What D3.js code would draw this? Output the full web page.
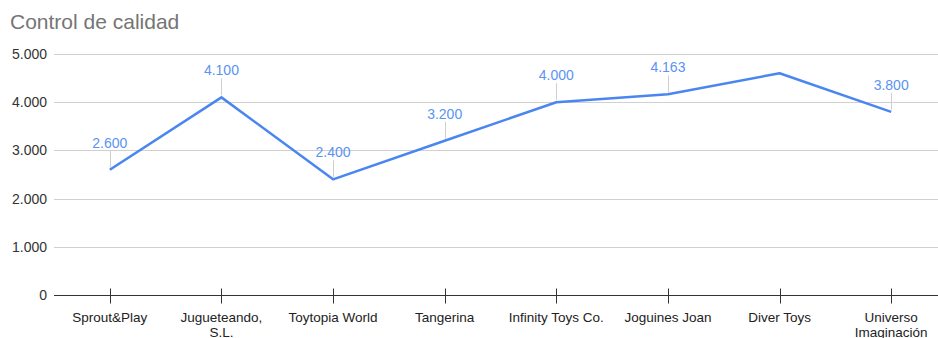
<!DOCTYPE html>
<html>
<head>
<meta charset="utf-8">
<script src="https://cdn.jsdelivr.net/npm/d3@7"></script>
<style>
  body { margin: 0; background: #fff; }
  text { font-family: "Liberation Sans", Arial, sans-serif; }
</style>
</head>
<body>
<div id="chart"></div>
<script>
//Data for the chart.
const companies = ["Sprout&Play", "Jugueteando, S.L.", "Toytopia World", "Tangerina",
  "Infinity Toys Co.", "Joguines Joan", "Diver Toys", "Universo Imaginación"];
const scores = [2600, 4100, 2400, 3200, 4000, 4163, 4600, 3800];
//Which points carry a data label in the original.
const labelled = [true, true, true, true, true, true, false, true];
const yTicks = [0, 1000, 2000, 3000, 4000, 5000];

//Size of the svg container.
const width = 938;
const height = 338;
const margin = { top: 54, right: -9, bottom: 43, left: 54 };

const svg = d3.select("#chart")
  .append("svg")
  .attr("width", width)
  .attr("height", height);

//Spanish number format: dot as thousands separator.
const fmt = d3.formatLocale({ decimal: ",", thousands: ".", grouping: [3], currency: ["", "€"] }).format(",");

const xScale = d3.scalePoint()
  .domain(companies)
  .range([margin.left, width - margin.right])
  .padding(0.5);

const yScale = d3.scaleLinear()
  .domain([0, 5000])
  .range([height - margin.bottom, margin.top]);

//Title.
svg.append("text")
  .attr("x", 10)
  .attr("y", 29)
  .attr("font-size", "21px")
  .attr("fill", "#757575")
  .text("Control de calidad");

//Horizontal grid lines.
svg.append("g")
  .selectAll("line")
  .data(yTicks.filter(d => d > 0))
  .enter()
  .append("line")
  .attr("x1", margin.left)
  .attr("x2", width)
  .attr("y1", d => Math.round(yScale(d)) + 0.5)
  .attr("y2", d => Math.round(yScale(d)) + 0.5)
  .attr("stroke", "#d0d0d0")
  .attr("stroke-width", 1);

//Y axis labels.
const yAxis = svg.append("g")
  .attr("transform", `translate(${margin.left},0)`)
  .call(d3.axisLeft(yScale).tickValues(yTicks).tickFormat(fmt).tickSize(0).tickPadding(7));
yAxis.select(".domain").remove();
yAxis.selectAll("text")
  .attr("font-family", "Liberation Sans, Arial, sans-serif")
  .attr("font-size", "14px")
  .attr("fill", "#333");

//X axis with ticks crossing the baseline.
const x0 = Math.round(yScale(0)) + 0.5;
svg.append("line")
  .attr("x1", margin.left)
  .attr("x2", width)
  .attr("y1", x0)
  .attr("y2", x0)
  .attr("stroke", "#333");

svg.append("g")
  .selectAll("line")
  .data(companies)
  .enter()
  .append("line")
  .attr("x1", d => Math.round(xScale(d)) + 0.5)
  .attr("x2", d => Math.round(xScale(d)) + 0.5)
  .attr("y1", x0 - 7)
  .attr("y2", x0 + 8)
  .attr("stroke", "#333");

//Category labels, wrapped after a comma or when too long.
function wrapLabel(d) {
  const c = d.indexOf(", ");
  if (c >= 0) return [d.slice(0, c + 1), d.slice(c + 2)];
  if (d.length > 18) {
    const s = d.indexOf(" ");
    return [d.slice(0, s), d.slice(s + 1)];
  }
  return [d];
}

const catLabels = svg.append("g")
  .selectAll("text")
  .data(companies)
  .enter()
  .append("text")
  .attr("x", d => xScale(d))
  .attr("y", x0 + 26)
  .attr("text-anchor", "middle")
  .attr("font-size", "13.5px")
  .attr("fill", "#222");

catLabels.each(function (d) {
  const t = d3.select(this);
  wrapLabel(d).forEach((ln, i) => {
    t.append("tspan")
      .attr("x", xScale(d))
      .attr("dy", i === 0 ? 0 : 15)
      .text(ln);
  });
});

//The data line.
const line = d3.line()
  .x((d, i) => xScale(companies[i]))
  .y(d => yScale(d));

svg.append("path")
  .datum(scores)
  .attr("fill", "none")
  .attr("stroke", "#4a86f0")
  .attr("stroke-width", 2.5)
  .attr("stroke-linejoin", "round")
  .attr("d", line);

//Data labels with thin leader lines.
const labelData = scores.map((v, i) => ({ name: companies[i], value: v, show: labelled[i] }))
  .filter(d => d.show);

svg.append("g")
  .selectAll("line")
  .data(labelData)
  .enter()
  .append("line")
  .attr("x1", d => Math.round(xScale(d.name)) + 0.5)
  .attr("x2", d => Math.round(xScale(d.name)) + 0.5)
  .attr("y1", d => yScale(d.value) - 2)
  .attr("y2", d => yScale(d.value) - 19)
  .attr("stroke", "#cfcfcf");

svg.append("g")
  .selectAll("text")
  .data(labelData)
  .enter()
  .append("text")
  .attr("x", d => xScale(d.name))
  .attr("y", d => yScale(d.value) - 22)
  .attr("text-anchor", "middle")
  .attr("font-family", "Roboto, sans-serif")
  .attr("font-size", "14px")
  .attr("fill", "#5b93f2")
  .text(d => fmt(d.value));
</script>
</body>
</html>
